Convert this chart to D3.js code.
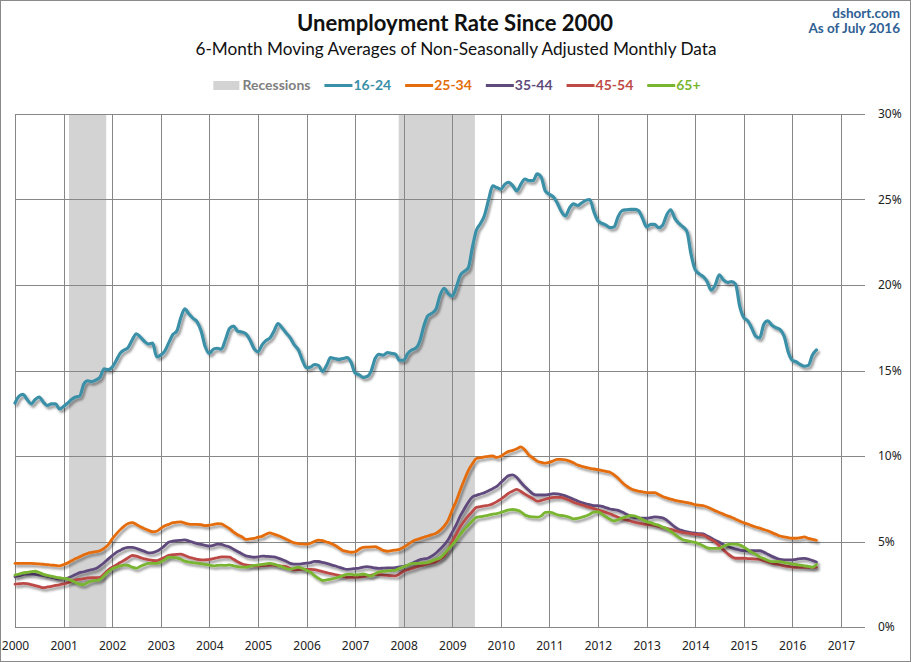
<!DOCTYPE html>
<html>
<head>
<meta charset="utf-8">
<script src="https://cdn.jsdelivr.net/npm/d3@7"></script>
<style>
  body { margin: 0; background: #fff; }
  svg { display: block; }
</style>
</head>
<body>
<svg width="911" height="662"></svg>
<script>
// monthly points, Jan 2000 .. Jul 2016
const months = d3.timeMonth.range(new Date(2000, 0, 1), new Date(2016, 7, 1));

const seriesNames = ["16-24", "25-34", "35-44", "45-54", "65+"];

const rate16to24 = [
  13.1,13.5,13.6,13.3,13.05,13.3,13.45,13.15,12.95,13.05,13.05,12.75,
  12.9,13.1,13.3,13.45,13.5,14.2,14.4,14.35,14.45,14.6,15.1,15.05,
  15.2,15.6,16.0,16.2,16.35,16.8,17.15,16.95,16.7,16.55,16.6,15.8,
  15.9,16.15,16.6,17.1,17.3,18.1,18.6,18.3,18.05,17.85,17.3,16.4,
  16.0,16.25,16.3,16.25,16.8,17.45,17.6,17.3,17.25,17.15,16.8,16.3,
  16.1,16.5,16.75,16.9,17.3,17.75,17.5,17.2,16.9,16.5,16.2,15.6,
  15.15,15.2,15.35,15.3,14.95,15.3,15.75,15.7,15.65,15.7,15.75,15.5,
  14.85,14.75,14.6,14.65,14.95,15.7,15.95,15.9,16.05,16.0,15.95,15.6,
  15.6,16.0,16.2,16.3,16.7,17.6,18.2,18.35,18.6,19.4,19.8,19.5,
  19.35,19.9,20.55,20.8,21.0,22.2,23.2,23.6,24.1,25.0,25.8,25.7,
  25.6,25.9,26.0,25.8,25.5,25.9,26.2,26.1,26.1,26.5,26.3,25.5,
  25.3,25.15,24.8,24.3,24.05,24.5,24.75,24.65,24.8,24.95,25.0,24.3,
  23.75,23.6,23.5,23.35,23.4,24.0,24.35,24.4,24.42,24.42,24.35,23.9,
  23.4,23.55,23.55,23.35,23.5,24.1,24.4,23.9,23.6,23.4,23.1,21.8,
  20.9,20.65,20.5,20.2,19.7,20.0,20.6,20.3,20.15,20.2,20.05,18.8,
  18.1,17.9,17.5,17.0,16.9,17.7,17.9,17.65,17.5,17.4,17.0,16.1,
  15.6,15.5,15.35,15.25,15.3,15.9,16.2
];

const rate25to34 = [
  3.72,3.72,3.72,3.72,3.72,3.71,3.69,3.67,3.65,3.62,3.6,3.57,
  3.65,3.75,3.87,4.0,4.1,4.22,4.31,4.36,4.41,4.46,4.6,4.8,
  5.15,5.45,5.68,5.9,6.05,6.1,6.0,5.86,5.75,5.65,5.57,5.6,
  5.77,5.92,6.0,6.1,6.13,6.15,6.07,6.01,6.0,6.0,5.98,5.93,
  5.95,6.0,6.04,6.03,5.9,5.75,5.55,5.4,5.28,5.13,5.15,5.18,
  5.25,5.3,5.42,5.5,5.43,5.35,5.25,5.13,5.02,4.92,4.88,4.86,
  4.85,4.9,5.0,5.08,5.05,4.97,4.9,4.78,4.63,4.47,4.42,4.37,
  4.4,4.55,4.66,4.67,4.68,4.7,4.6,4.48,4.43,4.46,4.5,4.54,
  4.66,4.82,4.98,5.1,5.17,5.25,5.32,5.4,5.48,5.65,5.9,6.25,
  6.85,7.4,8.0,8.6,9.15,9.55,9.85,9.9,9.95,9.98,10.0,9.92,
  9.98,10.15,10.27,10.33,10.42,10.53,10.35,10.05,9.88,9.7,9.63,9.58,
  9.63,9.72,9.8,9.8,9.77,9.7,9.6,9.47,9.4,9.33,9.28,9.24,
  9.2,9.15,9.1,9.05,8.9,8.7,8.45,8.25,8.1,8.0,7.95,7.9,
  7.86,7.86,7.86,7.75,7.63,7.55,7.48,7.41,7.36,7.32,7.28,7.23,
  7.15,7.12,7.1,7.02,6.92,6.8,6.7,6.6,6.5,6.42,6.3,6.2,
  6.1,6.02,5.93,5.85,5.78,5.7,5.63,5.52,5.42,5.32,5.27,5.22,
  5.19,5.19,5.22,5.27,5.18,5.12,5.07
];

const rate35to44 = [
  2.94,3.0,3.06,3.1,3.09,3.08,3.04,3.0,2.96,2.9,2.85,2.8,
  2.82,2.86,2.95,3.07,3.18,3.23,3.3,3.36,3.42,3.57,3.76,3.97,
  4.17,4.36,4.48,4.6,4.66,4.66,4.6,4.51,4.42,4.33,4.35,4.43,
  4.57,4.77,4.96,5.02,5.05,5.07,5.09,5.03,4.95,4.88,4.83,4.78,
  4.73,4.77,4.85,4.83,4.75,4.68,4.55,4.42,4.28,4.16,4.12,4.08,
  4.1,4.15,4.13,4.12,4.1,4.03,3.95,3.85,3.72,3.68,3.68,3.7,
  3.73,3.77,3.84,3.83,3.78,3.72,3.65,3.58,3.5,3.43,3.37,3.39,
  3.42,3.45,3.5,3.53,3.5,3.45,3.43,3.44,3.45,3.46,3.47,3.51,
  3.55,3.6,3.71,3.83,3.93,3.98,4.02,4.15,4.33,4.55,4.8,5.1,
  5.55,6.0,6.48,6.9,7.3,7.6,7.7,7.78,7.86,7.97,8.09,8.22,
  8.45,8.68,8.85,8.9,8.74,8.45,8.2,7.98,7.78,7.72,7.72,7.72,
  7.76,7.8,7.78,7.73,7.67,7.57,7.47,7.37,7.28,7.2,7.15,7.1,
  7.1,7.05,6.98,6.9,6.86,6.82,6.72,6.6,6.48,6.4,6.38,6.36,
  6.36,6.4,6.44,6.42,6.38,6.25,6.05,5.85,5.7,5.63,5.57,5.52,
  5.49,5.46,5.44,5.32,5.2,5.07,4.95,4.82,4.72,4.63,4.55,4.5,
  4.46,4.46,4.46,4.46,4.46,4.38,4.25,4.13,4.03,3.95,3.92,3.92,
  3.93,3.96,4.0,4.01,3.97,3.88,3.8
];

const rate45to54 = [
  2.51,2.53,2.55,2.53,2.48,2.42,2.36,2.3,2.34,2.38,2.43,2.47,
  2.52,2.59,2.67,2.75,2.79,2.83,2.87,2.88,2.88,2.9,3.1,3.33,
  3.5,3.63,3.77,3.9,4.05,4.18,4.15,4.06,3.98,3.93,3.89,3.88,
  3.97,4.08,4.19,4.23,4.25,4.26,4.18,4.08,4.02,3.96,3.92,3.93,
  3.95,4.0,4.05,4.1,4.1,4.08,3.96,3.82,3.7,3.63,3.6,3.58,
  3.57,3.59,3.6,3.62,3.62,3.59,3.56,3.53,3.42,3.34,3.36,3.37,
  3.37,3.37,3.35,3.3,3.24,3.18,3.12,3.07,3.02,2.96,2.91,2.9,
  2.91,2.92,2.95,2.99,3.03,3.07,3.06,3.04,3.02,3.0,2.99,3.1,
  3.26,3.35,3.42,3.5,3.57,3.63,3.69,3.75,3.82,3.97,4.15,4.5,
  5.0,5.45,5.85,6.2,6.5,6.75,7.0,7.04,7.08,7.12,7.2,7.33,
  7.48,7.66,7.83,7.95,8.05,7.92,7.77,7.63,7.5,7.36,7.4,7.47,
  7.53,7.58,7.58,7.58,7.5,7.41,7.3,7.21,7.14,7.07,7.0,6.92,
  6.85,6.78,6.7,6.62,6.52,6.42,6.33,6.26,6.2,6.13,6.07,6.03,
  6.0,5.97,5.94,5.88,5.82,5.77,5.71,5.64,5.58,5.52,5.49,5.46,
  5.43,5.41,5.38,5.25,5.12,4.98,4.75,4.52,4.3,4.12,4.02,4.02,
  4.02,4.0,3.99,3.97,3.96,3.88,3.81,3.73,3.68,3.63,3.58,3.54,
  3.5,3.49,3.49,3.49,3.49,3.49,3.49
];

const rate65plus = [
  3.04,3.1,3.16,3.2,3.24,3.26,3.18,3.08,3.02,2.97,2.92,2.88,
  2.85,2.81,2.72,2.6,2.5,2.48,2.6,2.69,2.72,2.77,3.0,3.22,
  3.4,3.5,3.57,3.62,3.6,3.5,3.44,3.55,3.65,3.72,3.72,3.72,
  3.8,3.95,4.08,4.07,4.04,3.96,3.85,3.8,3.76,3.73,3.7,3.66,
  3.62,3.58,3.6,3.62,3.6,3.63,3.58,3.53,3.5,3.5,3.55,3.6,
  3.63,3.66,3.69,3.72,3.68,3.6,3.52,3.42,3.38,3.45,3.5,3.42,
  3.32,3.2,3.0,2.85,2.72,2.75,2.8,2.85,2.93,3.0,3.08,3.08,
  3.05,3.06,3.1,3.05,2.98,3.12,3.22,3.26,3.28,3.3,3.33,3.43,
  3.52,3.62,3.7,3.72,3.73,3.75,3.78,3.87,3.96,4.05,4.28,4.55,
  4.8,5.1,5.4,5.7,5.95,6.2,6.41,6.45,6.5,6.54,6.6,6.63,
  6.7,6.78,6.85,6.87,6.83,6.73,6.55,6.47,6.44,6.42,6.5,6.7,
  6.72,6.65,6.56,6.52,6.49,6.42,6.32,6.35,6.42,6.49,6.6,6.72,
  6.74,6.6,6.45,6.3,6.2,6.28,6.38,6.45,6.52,6.5,6.4,6.28,
  6.16,6.1,6.02,5.96,5.85,5.75,5.6,5.42,5.24,5.1,5.05,5.0,
  4.95,4.85,4.75,4.63,4.6,4.6,4.6,4.72,4.82,4.85,4.85,4.8,
  4.68,4.52,4.38,4.25,4.1,4.0,3.9,3.82,3.82,3.82,3.78,3.73,
  3.69,3.65,3.62,3.58,3.55,3.5,3.65
];

// recession shading
const recessionStarts = ["2001-02-10", "2007-11-25"];
const recessionEnds = ["2001-11-17", "2009-06-20"];

const yTicks = [0, 5, 10, 15, 20, 25, 30];

const allSeries = [rate16to24, rate25to34, rate35to44, rate45to54, rate65plus];
const colors = ["#3a90a8", "#e46c0a", "#604a7b", "#bd4a47", "#7ab532"];
const widths = [3.2, 2.8, 2.8, 2.8, 2.8];

const svg = d3.select("svg");
const W = 911, H = 662;
const plot = {left: 15, right: 865, top: 114, bottom: 627};
const parse = d3.timeParse("%Y-%m-%d");

const x = d3.scaleTime()
    .domain([new Date(2000, 0, 1), new Date(2017, 6, 1)])
    .range([plot.left, plot.right]);

const y = d3.scaleLinear()
    .domain([0, 30])
    .range([plot.bottom, plot.top]);

const defs = svg.append("defs");
const shadow = defs.append("filter")
    .attr("id", "shadow")
    .attr("filterUnits", "userSpaceOnUse")
    .attr("x", 0).attr("y", 0).attr("width", W).attr("height", H);
shadow.append("feDropShadow")
    .attr("dx", 2).attr("dy", 2.5)
    .attr("stdDeviation", 1.3)
    .attr("flood-color", "#000")
    .attr("flood-opacity", 0.4);

// outer frame
svg.append("rect")
    .attr("x", 0.5).attr("y", 0.5)
    .attr("width", W - 1).attr("height", H - 1)
    .attr("fill", "#fff")
    .attr("stroke", "#8a8a8a");

// recessions
svg.append("g").selectAll("rect")
    .data(recessionStarts.map((s, i) => [parse(s), parse(recessionEnds[i])]))
    .join("rect")
    .attr("x", d => x(d[0]))
    .attr("width", d => x(d[1]) - x(d[0]))
    .attr("y", plot.top)
    .attr("height", plot.bottom - plot.top)
    .attr("fill", "#d3d3d3");

// grid
const years = d3.timeYear.range(new Date(2000, 0, 1), new Date(2017, 1, 1));
const grid = svg.append("g").attr("stroke", "#878787").attr("stroke-width", 1);
grid.selectAll("line.v")
    .data(years)
    .join("line")
    .attr("class", "v")
    .attr("x1", d => Math.round(x(d)) + 0.5)
    .attr("x2", d => Math.round(x(d)) + 0.5)
    .attr("y1", plot.top)
    .attr("y2", plot.bottom);
grid.selectAll("line.h")
    .data(yTicks)
    .join("line")
    .attr("class", "h")
    .attr("x1", plot.left)
    .attr("x2", plot.right)
    .attr("y1", d => Math.round(y(d)) + 0.5)
    .attr("y2", d => Math.round(y(d)) + 0.5);

// axes
const xAxis = svg.append("g")
    .attr("transform", `translate(0,${plot.bottom})`)
    .call(d3.axisBottom(x)
        .tickValues(years)
        .tickFormat(d3.timeFormat("%Y"))
        .tickSize(0)
        .tickPadding(14));
xAxis.select(".domain").remove();

const yAxis = svg.append("g")
    .attr("transform", `translate(${plot.right},0)`)
    .call(d3.axisRight(y)
        .tickValues(yTicks)
        .tickFormat(d => d + "%")
        .tickSize(0)
        .tickPadding(13));
yAxis.select(".domain").remove();

svg.selectAll(".tick text")
    .attr("font-family", "'Noto Sans', sans-serif")
    .attr("font-size", 12)
    .attr("fill", "#222");

// series lines
const line = d3.line()
    .x((d, i) => x(months[i]))
    .y(d => y(d))
    .curve(d3.curveMonotoneX);

svg.append("g").selectAll("path")
    .data(allSeries)
    .join("path")
    .attr("d", line)
    .attr("fill", "none")
    .attr("stroke", (d, i) => colors[i])
    .attr("stroke-width", (d, i) => widths[i])
    .attr("stroke-linejoin", "round")
    .attr("stroke-linecap", "round")
    .attr("filter", "url(#shadow)");

// titles
const font = "Lato, 'Open Sans', sans-serif";
svg.append("text")
    .attr("x", 455).attr("y", 31)
    .attr("text-anchor", "middle")
    .attr("font-family", font)
    .attr("font-weight", "bold")
    .attr("font-size", 22)
    .attr("textLength", 316)
    .attr("lengthAdjust", "spacingAndGlyphs")
    .attr("fill", "#111")
    .text("Unemployment Rate Since 2000");

svg.append("text")
    .attr("x", 456).attr("y", 55)
    .attr("text-anchor", "middle")
    .attr("font-family", font)
    .attr("font-size", 16.5)
    .attr("textLength", 521)
    .attr("lengthAdjust", "spacingAndGlyphs")
    .attr("fill", "#111")
    .text("6-Month Moving Averages of Non-Seasonally Adjusted Monthly Data");

svg.append("text")
    .attr("x", 900).attr("y", 18)
    .attr("text-anchor", "end")
    .attr("font-family", font)
    .attr("font-weight", "bold")
    .attr("font-size", 13.5)
    .attr("fill", "#2f6093")
    .text("dshort.com");

svg.append("text")
    .attr("x", 900).attr("y", 33)
    .attr("text-anchor", "end")
    .attr("font-family", font)
    .attr("font-weight", "bold")
    .attr("font-size", 13.5)
    .attr("fill", "#2f6093")
    .text("As of July 2016");

// legend, laid out left to right then centred
const legendItems = [{name: "Recessions", color: "#d3d3d3", text: "#808080", box: true}]
    .concat(seriesNames.map((n, i) => ({name: n, color: colors[i], text: colors[i], box: false})));

const legend = svg.append("g");
let cx = 0;
legendItems.forEach(item => {
    const g = legend.append("g").attr("transform", `translate(${cx},0)`);
    let sw;
    if (item.box) {
        sw = 29;
        g.append("rect").attr("x", 0).attr("y", 81).attr("width", 26).attr("height", 9).attr("fill", item.color);
    } else {
        sw = 29;
        g.append("line").attr("x1", 0).attr("x2", 28).attr("y1", 85.5).attr("y2", 85.5)
            .attr("stroke", item.color).attr("stroke-width", 3);
    }
    const t = g.append("text")
        .attr("x", sw).attr("y", 90)
        .attr("font-family", font)
        .attr("font-weight", "bold")
        .attr("font-size", 14)
        .attr("fill", item.text)
        .text(item.name);
    cx += sw + t.node().getComputedTextLength() + 14;
});
const legendWidth = cx - 14;
legend.attr("transform", `translate(${457 - legendWidth / 2},0)`);
</script>
</body>
</html>
